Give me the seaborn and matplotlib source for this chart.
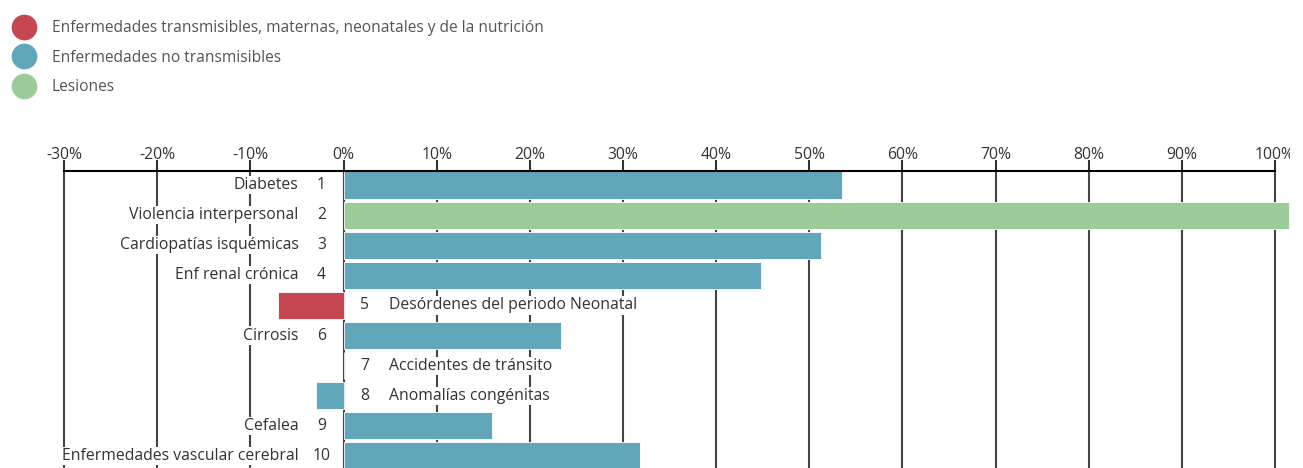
import numpy as np
import pandas as pd
import matplotlib.pyplot as plt
import matplotlib.lines as mlines
from matplotlib.transforms import Bbox, TransformedBbox
import seaborn as sns

# data
ranks = [1, 2, 3, 4, 5, 6, 7, 8, 9, 10]
causes = ['Diabetes', 'Violencia interpersonal', 'Cardiopatías isquémicas', 'Enf renal crónica',
          'Desórdenes del periodo Neonatal', 'Cirrosis', 'Accidentes de tránsito',
          'Anomalías congénitas', 'Cefalea', 'Enfermedades vascular cerebral']
change_pct = [53.5, 101.5, 51.3, 44.8, -7.0, 23.3, 0.0, -3.0, 15.9, 31.8]
groups = ['Enfermedades no transmisibles', 'Lesiones', 'Enfermedades no transmisibles',
          'Enfermedades no transmisibles',
          'Enfermedades transmisibles, maternas, neonatales y de la nutrición',
          'Enfermedades no transmisibles', 'Lesiones', 'Enfermedades no transmisibles',
          'Enfermedades no transmisibles', 'Enfermedades no transmisibles']
group_order = ['Enfermedades transmisibles, maternas, neonatales y de la nutrición',
               'Enfermedades no transmisibles', 'Lesiones']
group_colors = ['#C44752', '#62A6BA', '#9DCB9A']
x_ticks = [-30, -20, -10, 0, 10, 20, 30, 40, 50, 60, 70, 80, 90, 100]

df = pd.DataFrame({'rank': ranks, 'cause': causes, 'change': change_pct, 'group': groups})
df['row'] = df['rank'].astype(str)

sns.set_style('white')
plt.rcParams['font.family'] = ['Open Sans', 'DejaVu Sans']
txt_color = '#333333'
fs = 11.3

W, H = 1303, 468
fig = plt.figure(figsize=(W / 100, H / 100), dpi=100)
ax = fig.add_axes([60.3 / W, 0, (1290 - 60.3) / W, 1 - 171 / H])

palette = dict(zip(group_order, group_colors))
sns.barplot(data=df, x='change', y='row', hue='group', hue_order=group_order, palette=palette,
            dodge=False, orient='h', width=0.9, saturation=1, edgecolor='white', linewidth=0.6,
            legend=False, ax=ax)

ax.set_xlim(-30.4, 101.6)
ax.set_ylim(9.4, -0.465)
ax.set_xticks(x_ticks)
ax.set_xticklabels([f'{t}%' for t in x_ticks])
ax.xaxis.tick_top()
ax.tick_params(axis='x', which='both', top=True, bottom=False, length=8, width=1.5, color='#333333',
               pad=-2, labelsize=fs, labelcolor=txt_color)
ax.set_yticks([])
ax.set_xlabel('')
ax.set_ylabel('')
ax.set_axisbelow(True)
ax.grid(axis='x', color='#444444', linewidth=1.5)
for side in ['left', 'right', 'bottom']:
    ax.spines[side].set_visible(False)
ax.spines['top'].set_color('black')
ax.spines['top'].set_linewidth(1.5)
ax.spines['top'].set_bounds(-30, 100)

# the reference is cut at the right, so "100%" is clipped
clip = TransformedBbox(Bbox.from_extents(0, 0, 1290 / W, 1), fig.transFigure)
for lbl in ax.get_xticklabels():
    lbl.set_clip_box(clip)
    lbl.set_clip_on(True)

# row labels, put on the side opposite the bar
box = dict(facecolor='white', edgecolor='none', pad=0.8)
for i, r in df.iterrows():
    if r['change'] > 0:
        ax.annotate(str(r['rank']), (0, i), xytext=(-22, 0), textcoords='offset pixels',
                    ha='center', va='center', fontsize=fs, color=txt_color, bbox=box)
        ax.annotate(r['cause'], (0, i), xytext=(-45, 0), textcoords='offset pixels',
                    ha='right', va='center', fontsize=fs, color=txt_color, bbox=box)
    else:
        ax.annotate(str(r['rank']), (0, i), xytext=(21, 0), textcoords='offset pixels',
                    ha='center', va='center', fontsize=fs, color=txt_color, bbox=box)
        ax.annotate(r['cause'], (0, i), xytext=(45, 0), textcoords='offset pixels',
                    ha='left', va='center', fontsize=fs, color=txt_color, bbox=box)

handles = [mlines.Line2D([], [], linestyle='none', marker='o', markersize=18.5,
                         markerfacecolor=c, markeredgecolor='none') for c in group_colors]
leg = fig.legend(handles, group_order, loc='upper left', bbox_to_anchor=(14.6 / W, 1 - 20 / H),
                 frameon=False, fontsize=11.2, labelspacing=0.87, handlelength=1.2,
                 handletextpad=1.18, borderaxespad=0, borderpad=0)
for t in leg.get_texts():
    t.set_color('#555555')

plt.savefig('out.png', dpi=100)
